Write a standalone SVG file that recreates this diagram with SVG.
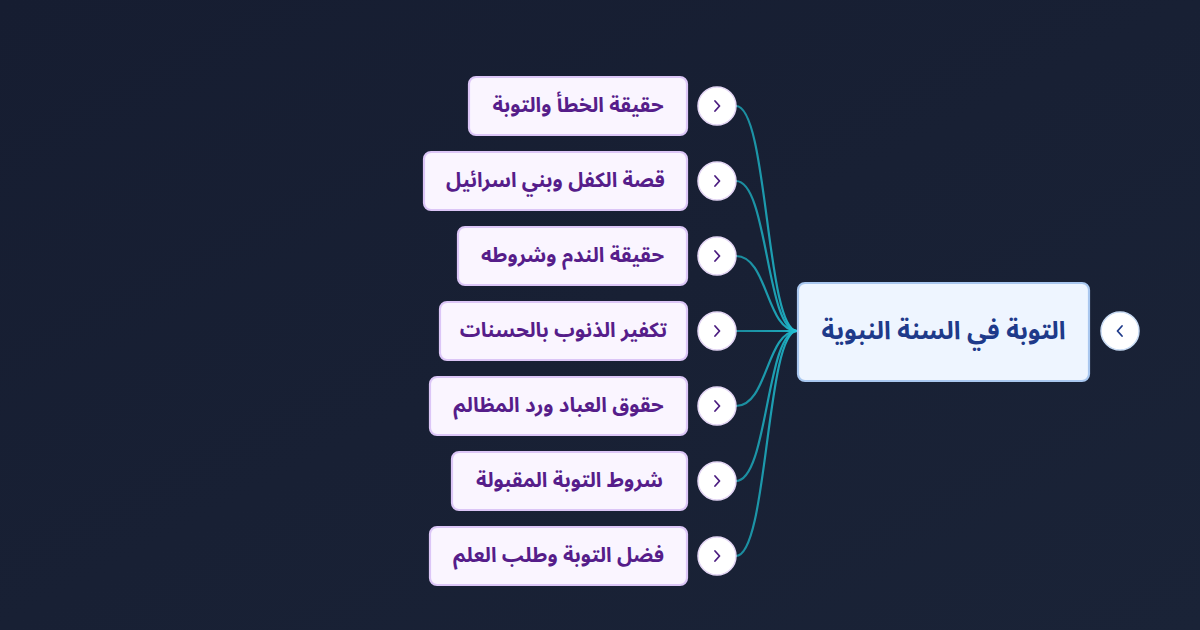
<svg xmlns="http://www.w3.org/2000/svg" width="1200" height="630" viewBox="0 0 1200 630">
<defs>
<linearGradient id="bg" x1="0" y1="0" x2="1" y2="1">
<stop offset="0" stop-color="#161d31"/>
<stop offset="1" stop-color="#1a2337"/>
</linearGradient>
<linearGradient id="lk" gradientUnits="userSpaceOnUse" x1="736" y1="0" x2="797" y2="0">
<stop offset="0" stop-color="#1b8a9c"/>
<stop offset="0.8" stop-color="#1da5b8"/>
<stop offset="1" stop-color="#22c8dc"/>
</linearGradient>
<style>
.box{fill:#faf5ff;stroke:#dcc6f7;stroke-width:2.2}
.root{fill:#eef5ff;stroke:#a9c7ef;stroke-width:2.2}
.t{font-family:"Noto Sans Arabic","DejaVu Sans","Noto Sans",sans-serif;font-weight:700;text-anchor:middle;direction:rtl;unicode-bidi:plaintext}
.ct{font-size:20.5px;fill:#561d8a}
.rt{font-size:25px;fill:#1e3a8a}
.btn{fill:#ffffff;stroke:#e4d6f5;stroke-width:1.5}
.chev{fill:none;stroke:#4c1d80;stroke-width:1.8;stroke-linecap:round;stroke-linejoin:round}
.chevr{fill:none;stroke:#1e3a8a;stroke-width:1.8;stroke-linecap:round;stroke-linejoin:round}
.link{fill:none;stroke:url(#lk);stroke-width:2.2}
</style>
</defs>
<rect width="1200" height="630" fill="url(#bg)"/>
<g id="connectors">
<path class="link" d="M736,106 C768,106 766,331 797,331"/>
<path class="link" d="M736,181 C768,181 766,331 797,331"/>
<path class="link" d="M736,256 C768,256 766,331 797,331"/>
<path class="link" d="M736,331 L797,331"/>
<path class="link" d="M736,406 C768,406 766,331 797,331"/>
<path class="link" d="M736,481 C768,481 766,331 797,331"/>
<path class="link" d="M736,556 C768,556 766,331 797,331"/>
</g>
<g id="root">
<rect class="root" x="798" y="283" width="291" height="98" rx="7"/>
<text class="t rt" x="943.5" y="339">التوبة في السنة النبوية</text>
<circle cx="1120" cy="331" r="19" fill="#ffffff" stroke="#c9dcf5" stroke-width="1.5"/>
<path class="chevr" d="M1122,326 L1117.5,331 L1122,336"/>
</g>
<g id="n1">
<rect class="box" x="469" y="77" width="218" height="58" rx="7"/>
<text class="t ct" x="578" y="112">حقيقة الخطأ والتوبة</text>
<circle class="btn" cx="717" cy="106" r="19"/>
<path class="chev" d="M715,101 L719.5,106 L715,111"/>
</g>
<g id="n2">
<rect class="box" x="424" y="152" width="263" height="58" rx="7"/>
<text class="t ct" x="555.5" y="187">قصة الكفل وبني اسرائيل</text>
<circle class="btn" cx="717" cy="181" r="19"/>
<path class="chev" d="M715,176 L719.5,181 L715,186"/>
</g>
<g id="n3">
<rect class="box" x="458" y="227" width="229" height="58" rx="7"/>
<text class="t ct" x="572.5" y="262">حقيقة الندم وشروطه</text>
<circle class="btn" cx="717" cy="256" r="19"/>
<path class="chev" d="M715,251 L719.5,256 L715,261"/>
</g>
<g id="n4">
<rect class="box" x="440" y="302" width="247" height="58" rx="7"/>
<text class="t ct" x="563.5" y="337">تكفير الذنوب بالحسنات</text>
<circle class="btn" cx="717" cy="331" r="19"/>
<path class="chev" d="M715,326 L719.5,331 L715,336"/>
</g>
<g id="n5">
<rect class="box" x="430" y="377" width="257" height="58" rx="7"/>
<text class="t ct" x="558.5" y="412">حقوق العباد ورد المظالم</text>
<circle class="btn" cx="717" cy="406" r="19"/>
<path class="chev" d="M715,401 L719.5,406 L715,411"/>
</g>
<g id="n6">
<rect class="box" x="452" y="452" width="235" height="58" rx="7"/>
<text class="t ct" x="569.5" y="487">شروط التوبة المقبولة</text>
<circle class="btn" cx="717" cy="481" r="19"/>
<path class="chev" d="M715,476 L719.5,481 L715,486"/>
</g>
<g id="n7">
<rect class="box" x="430" y="527" width="257" height="58" rx="7"/>
<text class="t ct" x="558.5" y="562">فضل التوبة وطلب العلم</text>
<circle class="btn" cx="717" cy="556" r="19"/>
<path class="chev" d="M715,551 L719.5,556 L715,561"/>
</g>
</svg>
